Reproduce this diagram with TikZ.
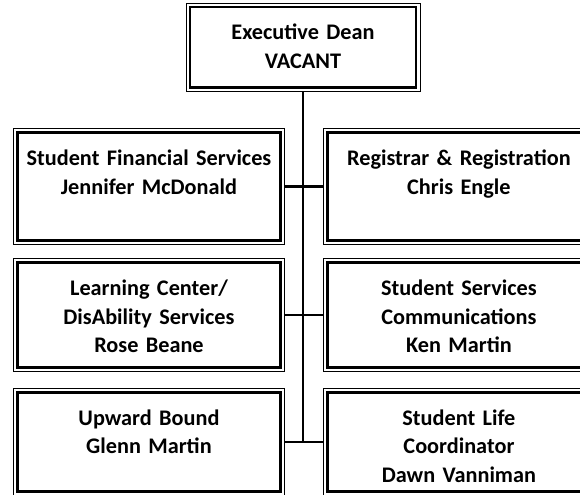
\documentclass[tikz,border=0pt]{standalone}
\usepackage{fontspec}
\setmainfont{Carlito}
\usetikzlibrary{positioning}

\tikzset{
    unit/.style={rectangle, draw=black, line width=0.8pt, inner sep=0pt, text width=8.13cm, align=center,
        text height=1.1cm, font=\bfseries\fontsize{19}{24.7}\selectfont,
        path picture={\draw[line width=2.4pt] ([shift={(0.12cm,-0.12cm)}]path picture bounding box.north west)
            rectangle ([shift={(-0.12cm,0.12cm)}]path picture bounding box.south east);}},
    link/.style={line width=2pt}
}

\begin{document}
\begin{tikzpicture}[x=0.03cm, y=-0.03cm]
    \useasboundingbox (0,0) rectangle (580,494);
    \clip (0,0) rectangle (580,494);

    \node [unit, text width=7.02cm, text depth=1.555cm, anchor=north] (dean) at (303,2.5) {Executive Dean\\VACANT};

    \node [unit, text depth=2.38cm, anchor=north west] (sfs) at (13,128) {Student Financial Services\\Jennifer McDonald};
    \node [unit, text depth=2.38cm, right=1.14cm of sfs] (reg) {Registrar \& Registration\\Chris Engle};

    \node [unit, text depth=2.29cm, below=0.39cm of sfs] (lcd) {Learning Center/\\DisAbility Services\\Rose Beane};
    \node [unit, text depth=2.29cm, right=1.14cm of lcd] (ssc) {Student Services\\Communications\\Ken Martin};

    \node [unit, text depth=2.11cm, below=0.48cm of lcd] (upw) {Upward Bound\\Glenn Martin};
    \node [unit, text depth=2.11cm, right=1.14cm of upw] (life) {Student Life\\Coordinator\\Dawn Vanniman};

    \coordinate (trunkend) at (dean.south |- upw.east);
    \draw [link] (dean.south) -- (trunkend);
    \draw [link] (sfs.east) -- (reg.west);
    \draw [link] (lcd.east) -- (ssc.west);
    \draw [link] (upw.east) -- (life.west);
\end{tikzpicture}
\end{document}
